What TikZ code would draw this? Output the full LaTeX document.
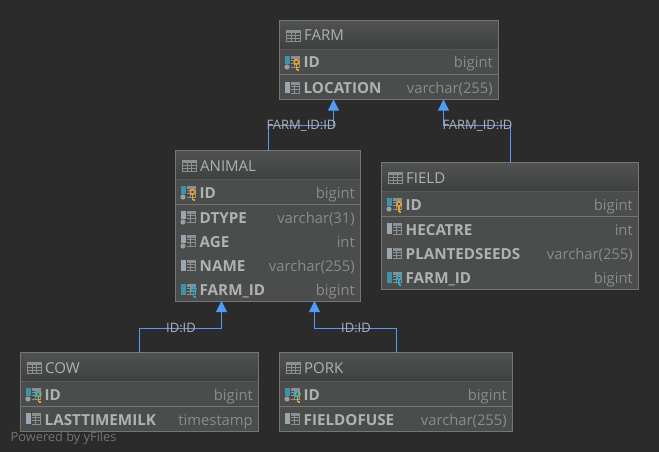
\documentclass[tikz,border=0pt]{standalone}
\usepackage{fontspec}
\setmainfont{Open Sans}
\usetikzlibrary{arrows.meta}
\definecolor{bgc}{HTML}{2B2B2B}
\definecolor{boxc}{HTML}{4B4D4D}
\definecolor{headtop}{HTML}{505252}
\definecolor{headbot}{HTML}{3F4141}
\definecolor{edgec}{HTML}{747676}
\definecolor{txtc}{HTML}{AFB1B3}
\definecolor{typec}{HTML}{8A8C8C}
\definecolor{bluec}{HTML}{4F9BF5}
\definecolor{iconc}{HTML}{9AA7B0}
\definecolor{tabc}{HTML}{8A9094}
\definecolor{tealc}{HTML}{3E93AB}
\definecolor{keyc}{HTML}{E5A32E}
\definecolor{fkc}{HTML}{2FA8D0}
\definecolor{dotc}{HTML}{9AA0A4}
\tikzset{
 x=1pt,y=-1pt,
 tablebox/.style={draw=edgec,line width=1pt,fill=boxc,inner sep=0pt,outer sep=0pt,rectangle},
 titletxt/.style={text=txtc,font=\fontsize{15}{16}\selectfont,anchor=base west,inner sep=0pt},
 coltxt/.style={text=txtc,font=\fontsize{15.2}{16}\selectfont\bfseries,anchor=base west,inner sep=0pt},
 typetxt/.style={text=typec,font=\fontsize{14.8}{16}\selectfont,anchor=base east,inner sep=0pt},
 linktxt/.style={text=txtc,font=\fontsize{13}{14}\selectfont,inner sep=0pt},
 link/.style={draw=bluec,line width=0.9pt,-{Triangle[width=11pt,length=11pt,fill=bluec]}},
 sepline/.style={draw=edgec,line width=1pt},
 headsep/.style={draw=boxc!70!edgec,line width=1pt},
}
\newcommand{\tabicon}[2]{%
 \begin{scope}[shift={(#1,#2)}]
  \draw[tabc,line width=0.9pt] (0,0) rectangle (14,11);
  \fill[tabc] (0,0) rectangle (14,3);
  \draw[tabc,line width=0.7pt] (4.7,0)--(4.7,11) (9.3,0)--(9.3,11) (0,5.5)--(14,5.5) (0,8.3)--(14,8.3);
 \end{scope}}
\newcommand{\colicon}[3]{%
 \begin{scope}[shift={(#1,#2)}]
  \fill[#3] (0,0) rectangle (5,11);
  \fill[tabc] (5.5,0) rectangle (14,3);
  \draw[tabc,line width=0.8pt] (14,0) -- (14,11) -- (5.5,11) (5.5,4.5) -- (14,4.5) (5.5,7.7) -- (14,7.7) (9.5,3) -- (9.5,11);
 \end{scope}}
\newcommand{\notnull}[2]{\fill[boxc] (#1-0.5,#2+8) rectangle (#1+5.5,#2+14);\fill[dotc] (#1+2,#2+11) circle (2.6);}
\newcommand{\keyicon}[3]{%
 \begin{scope}[shift={(#1,#2)}]
  \draw[#3,line width=1.6pt] (0,0) circle (2.3);
  \draw[#3,line width=1.7pt] (0,2.5) -- (0,8) (0,5.5) -- (2.2,5.5) (0,7.7) -- (2.2,7.7);
 \end{scope}}
\newcommand{\dualkey}[2]{\keyicon{#1+0.5}{#2}{keyc}\draw[fkc,line width=1.6pt] (#1-0.5,#2) circle (2.3);}
\newcommand{\tablehead}[5]{%
 \shade[top color=headtop,bottom color=headbot] (#1,#2) rectangle (#3,#4);
 \draw[headsep] (#1,#4) -- (#3,#4);
 \draw[edgec,line width=1pt] (#1,#2) rectangle (#3,#5);}
\begin{document}
\begin{tikzpicture}
\useasboundingbox (0,0) rectangle (659,452);
\fill[bgc] (0,0) rectangle (659,452);

% FARM
\node[tablebox,minimum width=219pt,minimum height=79pt] (farm) at (389,60) {};
\tablehead{279.5}{20.5}{498.5}{49.5}{99.5}
\tabicon{286.5}{30}
\node[titletxt] (farmT) at (304,41) {FARM};
\colicon{285}{56}{tealc}\notnull{285}{56}\keyicon{296.5}{62}{keyc}
\node[coltxt] (farmA) at (303.5,68) {ID};
\node[typetxt] (farmAt) at (493,68) {bigint};
\draw[sepline] (279.5,74.5) -- (498.5,74.5);
\colicon{285}{82}{iconc}
\node[coltxt] (farmB) at (303.5,93) {LOCATION};
\node[typetxt] (farmBt) at (493,93) {varchar(255)};

% ANIMAL
\node[tablebox,minimum width=185pt,minimum height=150.5pt] (animal) at (268,225.75) {};
\tablehead{175.5}{150.5}{360.5}{179}{301}
\tabicon{182.5}{160}
\node[titletxt] (animalT) at (200,171) {ANIMAL};
\colicon{181}{186}{tealc}\notnull{181}{186}\keyicon{192.5}{192}{keyc}
\node[coltxt] (animalA) at (199.5,198) {ID};
\node[typetxt] (animalAt) at (355,198) {bigint};
\draw[sepline] (175.5,204.5) -- (360.5,204.5);
\colicon{181}{211}{iconc}\notnull{181}{211}
\node[coltxt] (animalB) at (199.5,223) {DTYPE};
\node[typetxt] (animalBt) at (355,223) {varchar(31)};
\colicon{181}{235}{iconc}\notnull{181}{235}
\node[coltxt] (animalC) at (199.5,247) {AGE};
\node[typetxt] (animalCt) at (355,247) {int};
\colicon{181}{259.5}{iconc}
\node[coltxt] (animalD) at (199.5,271) {NAME};
\node[typetxt] (animalDt) at (355,271) {varchar(255)};
\colicon{181}{283.5}{tealc}\keyicon{193.5}{289}{fkc}
\node[coltxt] (animalE) at (199.5,295) {FARM\_ID};
\node[typetxt] (animalEt) at (355,295) {bigint};

% FIELD
\node[tablebox,minimum width=257pt,minimum height=127pt] (field) at (510,226) {};
\tablehead{381.5}{162.5}{638.5}{191}{289.5}
\tabicon{388.5}{172}
\node[titletxt] (fieldT) at (406,183) {FIELD};
\colicon{387}{198}{tealc}\notnull{387}{198}\keyicon{399}{204}{keyc}
\node[coltxt] (fieldA) at (405.5,210) {ID};
\node[typetxt] (fieldAt) at (633,210) {bigint};
\draw[sepline] (381.5,216.5) -- (638.5,216.5);
\colicon{387}{223}{iconc}
\node[coltxt] (fieldB) at (405.5,235) {HECATRE};
\node[typetxt] (fieldBt) at (633,235) {int};
\colicon{387}{247.5}{iconc}
\node[coltxt] (fieldC) at (405.5,259) {PLANTEDSEEDS};
\node[typetxt] (fieldCt) at (633,259) {varchar(255)};
\colicon{387}{271.5}{tealc}\keyicon{399}{277}{fkc}
\node[coltxt] (fieldD) at (405.5,283) {FARM\_ID};
\node[typetxt] (fieldDt) at (633,283) {bigint};

% COW
\node[tablebox,minimum width=238pt,minimum height=79pt] (cow) at (139.5,392) {};
\tablehead{20.5}{352.5}{258.5}{381}{431.5}
\tabicon{27.5}{362}
\node[titletxt] (cowT) at (45,373) {COW};
\colicon{26}{388}{tealc}\notnull{26}{388}\dualkey{38}{394}
\node[coltxt] (cowA) at (44.5,400) {ID};
\node[typetxt] (cowAt) at (253,400) {bigint};
\draw[sepline] (20.5,406.5) -- (258.5,406.5);
\colicon{26}{413}{iconc}
\node[coltxt] (cowB) at (44.5,425) {LASTTIMEMILK};
\node[typetxt] (cowBt) at (253,425) {timestamp};

% PORK
\node[tablebox,minimum width=233pt,minimum height=79pt] (pork) at (396,392) {};
\tablehead{279.5}{352.5}{512.5}{381}{431.5}
\tabicon{286.5}{362}
\node[titletxt] (porkT) at (304,373) {PORK};
\colicon{285}{388}{tealc}\notnull{285}{388}\dualkey{297}{394}
\node[coltxt] (porkA) at (303.5,400) {ID};
\node[typetxt] (porkAt) at (507,400) {bigint};
\draw[sepline] (279.5,406.5) -- (512.5,406.5);
\colicon{285}{413}{iconc}
\node[coltxt] (porkB) at (303.5,425) {FIELDOFUSE};
\node[typetxt] (porkBt) at (507,425) {varchar(255)};

% connectors
\draw[link] (animal.north) -- ++(0,-25) -| ([xshift=-55.5pt]farm.south);
\draw[link] (field.north) -- ++(0,-37) -| ([xshift=54.5pt]farm.south);
\draw[link] (cow.north) -- ++(0,-24.5) -| ([xshift=-46.5pt]animal.south);
\draw[link] (pork.north) -- ++(0,-24.5) -| ([xshift=46.5pt]animal.south);

% labels
\node[linktxt] (l1) at (301.5,126) {FARM\_ID:ID};
\node[linktxt] (l2) at (477.5,126) {FARM\_ID:ID};
\node[linktxt] (l3) at (181,327.5) {ID:ID};
\node[linktxt] (l4) at (356,327.5) {ID:ID};
\node[text=typec!75!bgc,font=\fontsize{12.8}{14}\selectfont,anchor=base west,inner sep=0pt] (pw) at (10.5,441) {Powered by yFiles};
\end{tikzpicture}
\end{document}
